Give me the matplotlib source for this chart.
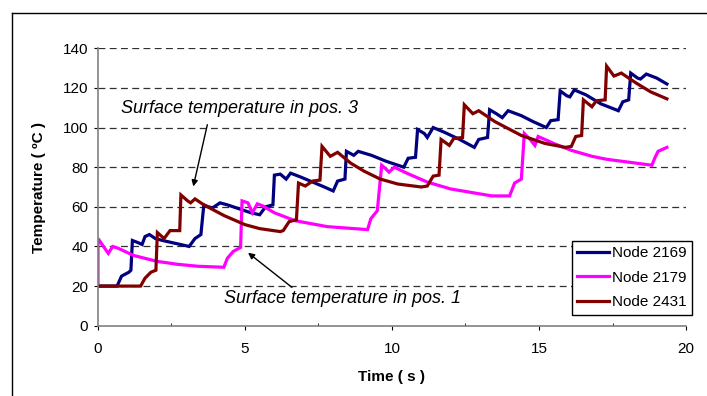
import matplotlib
matplotlib.use('Agg')
import matplotlib.pyplot as plt
from matplotlib.lines import Line2D
from matplotlib.ticker import MultipleLocator

plt.rcParams['font.family'] = ['Liberation Sans', 'DejaVu Sans']

# Node 2169 (blue)
t_2169 = [0, 0.65, 0.8, 1.05, 1.12, 1.17, 1.35, 1.5, 1.6, 1.75, 1.95, 2.2, 2.5, 2.8, 3.1,
          3.3, 3.5, 3.6, 3.75, 3.9, 4.15, 4.4, 4.8, 5.2, 5.5, 5.7, 5.95, 6.0, 6.2, 6.4,
          6.55, 6.9, 7.3, 7.7, 8.0, 8.15, 8.4, 8.45, 8.7, 8.85, 9.3, 9.8, 10.4, 10.55,
          10.8, 10.87, 11.1, 11.2, 11.4, 11.8, 12.3, 12.8, 12.95, 13.25, 13.32, 13.55,
          13.75, 13.95, 14.4, 14.8, 15.25, 15.4, 15.65, 15.72, 15.95, 16.05, 16.2, 16.6,
          17.1, 17.7, 17.85, 18.05, 18.12, 18.35, 18.45, 18.65, 19.0, 19.35]
T_2169 = [20, 20, 25, 27, 28, 43, 42, 41, 45, 46, 44, 43, 42, 41, 40,
          44, 46, 61, 60, 59.5, 62, 61, 59, 57, 56, 60, 61, 76, 76.5, 74,
          77, 75, 72.5, 70, 68, 73, 74, 88, 86, 88, 86, 83, 80, 84.5,
          85, 99, 97, 95, 100, 97.5, 94, 90, 94, 95, 109, 107,
          105, 108.5, 106, 103, 100, 103.5, 104, 118.5, 116, 115.5, 119, 116.5,
          112, 108.5, 113, 114, 127.5, 125, 124.5, 127, 125, 122]

# Node 2179 (magenta)
t_2179 = [0, 0, 0.35, 0.5, 0.7, 1.2, 2.0, 2.7, 3.4, 4.28, 4.4, 4.6, 4.85, 4.9, 5.1,
          5.25, 5.42, 5.6, 6.0, 6.7, 7.8, 9.17, 9.28, 9.5, 9.65, 9.8, 9.9, 10.08, 10.5,
          11.2, 12.0, 13.4, 14.0, 14.17, 14.4, 14.5, 14.7, 14.86, 14.97, 15.5, 16.1,
          16.8, 17.3, 18.84, 18.95, 19.05, 19.35]
T_2179 = [20, 44, 36.5, 40, 39, 35.5, 32.5, 31, 30, 29.5, 34, 37.5, 39.5, 63, 62,
          57, 61.5, 60.5, 57, 53, 50, 48.5, 54, 58, 81, 79, 77.5, 80, 77,
          72.5, 69, 65.5, 65.5, 72, 74, 97, 94, 91, 95.5, 92, 88.5,
          85.5, 84, 81, 85, 88, 90]

# Node 2431 (dark red)
t_2431 = [0, 1.45, 1.6, 1.8, 1.97, 2.02, 2.25, 2.45, 2.78, 2.82, 3.05, 3.15, 3.3, 3.6,
          4.3, 5.0, 5.5, 6.2, 6.3, 6.5, 6.75, 6.82, 7.05, 7.3, 7.55, 7.62, 7.9, 8.15,
          8.6, 9.05, 9.6, 10.2, 11.0, 11.2, 11.4, 11.6, 11.67, 11.95, 12.1, 12.4, 12.46,
          12.75, 12.95, 13.5, 14.4, 15.2, 15.9, 16.1, 16.25, 16.45, 16.51, 16.8, 16.95,
          17.25, 17.3, 17.55, 17.8, 18.3, 18.8, 19.35]
T_2431 = [20, 20, 24, 27, 28, 47, 44, 48, 48, 66, 63, 62, 64, 61,
          55.5, 51, 49, 47.5, 48, 52.5, 53.5, 72, 70.5, 73, 73.5, 90.5, 85.5, 87.5,
          82, 78, 74, 71.5, 70, 70.5, 75.5, 76, 94, 91, 94.5, 95, 111.5,
          107, 108.5, 103, 96, 92, 90, 90.5, 95.5, 96, 114, 110.5, 113.5,
          114, 131, 126, 127.5, 122.5, 118, 114.5]

labels = ['Node 2169', 'Node 2179', 'Node 2431']
colors = ['#000080', '#FF00FF', '#800000']

fig = plt.figure(figsize=(7.07, 3.96), dpi=100)
ax = fig.add_axes([0.1386, 0.1775, 0.8317, 0.7005])

for t, T, lab, c in zip([t_2169, t_2179, t_2431], [T_2169, T_2179, T_2431], labels, colors):
    ax.plot(t, T, color=c, lw=2.3, label=lab, solid_joinstyle='miter')

ax.set_xlim(0, 20)
ax.set_ylim(0, 140)
ax.xaxis.set_major_locator(MultipleLocator(5))
ax.xaxis.set_minor_locator(MultipleLocator(2.5))
ax.yaxis.set_major_locator(MultipleLocator(20))

for y in range(20, 141, 20):
    ax.axhline(y, color='#303030', lw=0.9, dashes=(5.5, 3.5), zorder=0)

for s in ['top', 'right']:
    ax.spines[s].set_visible(False)
for s in ['left', 'bottom']:
    ax.spines[s].set_color('#808080')
    ax.spines[s].set_linewidth(1.2)

ax.tick_params(axis='x', which='major', direction='out', length=3, color='black', pad=9, labelsize=11)
ax.tick_params(axis='x', which='minor', direction='in', length=2.5, color='black')
ax.tick_params(axis='y', which='major', direction='out', length=3, color='black', pad=4, labelsize=11)

ax.set_xlabel('Time ( s )', fontsize=11, fontweight='bold', labelpad=10)
ax.set_ylabel('Temperature ( ºC )', fontsize=11, fontweight='bold', labelpad=12)

ax.text(4.83, 109.4, 'Surface temperature in pos. 3', fontsize=13, style='italic',
        ha='center', va='center')
ax.annotate('', xy=(3.22, 68.9), xytext=(3.74, 102.8),
            arrowprops=dict(arrowstyle='-|>', color='black', lw=1, mutation_scale=9))
ax.text(8.33, 13.9, 'Surface temperature in pos. 1', fontsize=13, style='italic',
        ha='center', va='center')
ax.annotate('', xy=(5.03, 37.7), xytext=(6.67, 18.5),
            arrowprops=dict(arrowstyle='-|>', color='black', lw=1, mutation_scale=9))

leg = ax.legend(loc='upper left', bbox_to_anchor=(0.8056, 0.3064), fontsize=11,
                frameon=True, fancybox=False, edgecolor='black', framealpha=1,
                handlelength=2.1, handletextpad=0.2, borderpad=0.35, labelspacing=0.7,
                borderaxespad=0)
leg.get_frame().set_linewidth(1)

# outer chart frame (cropped on right and bottom)
fx = 12.3 / 707
fy = 1 - 13.3 / 396
fig.add_artist(Line2D([fx, fx], [0, fy], color='black', lw=1, transform=fig.transFigure))
fig.add_artist(Line2D([fx, 1], [fy, fy], color='black', lw=1, transform=fig.transFigure))

fig.savefig('out.png', dpi=100)
